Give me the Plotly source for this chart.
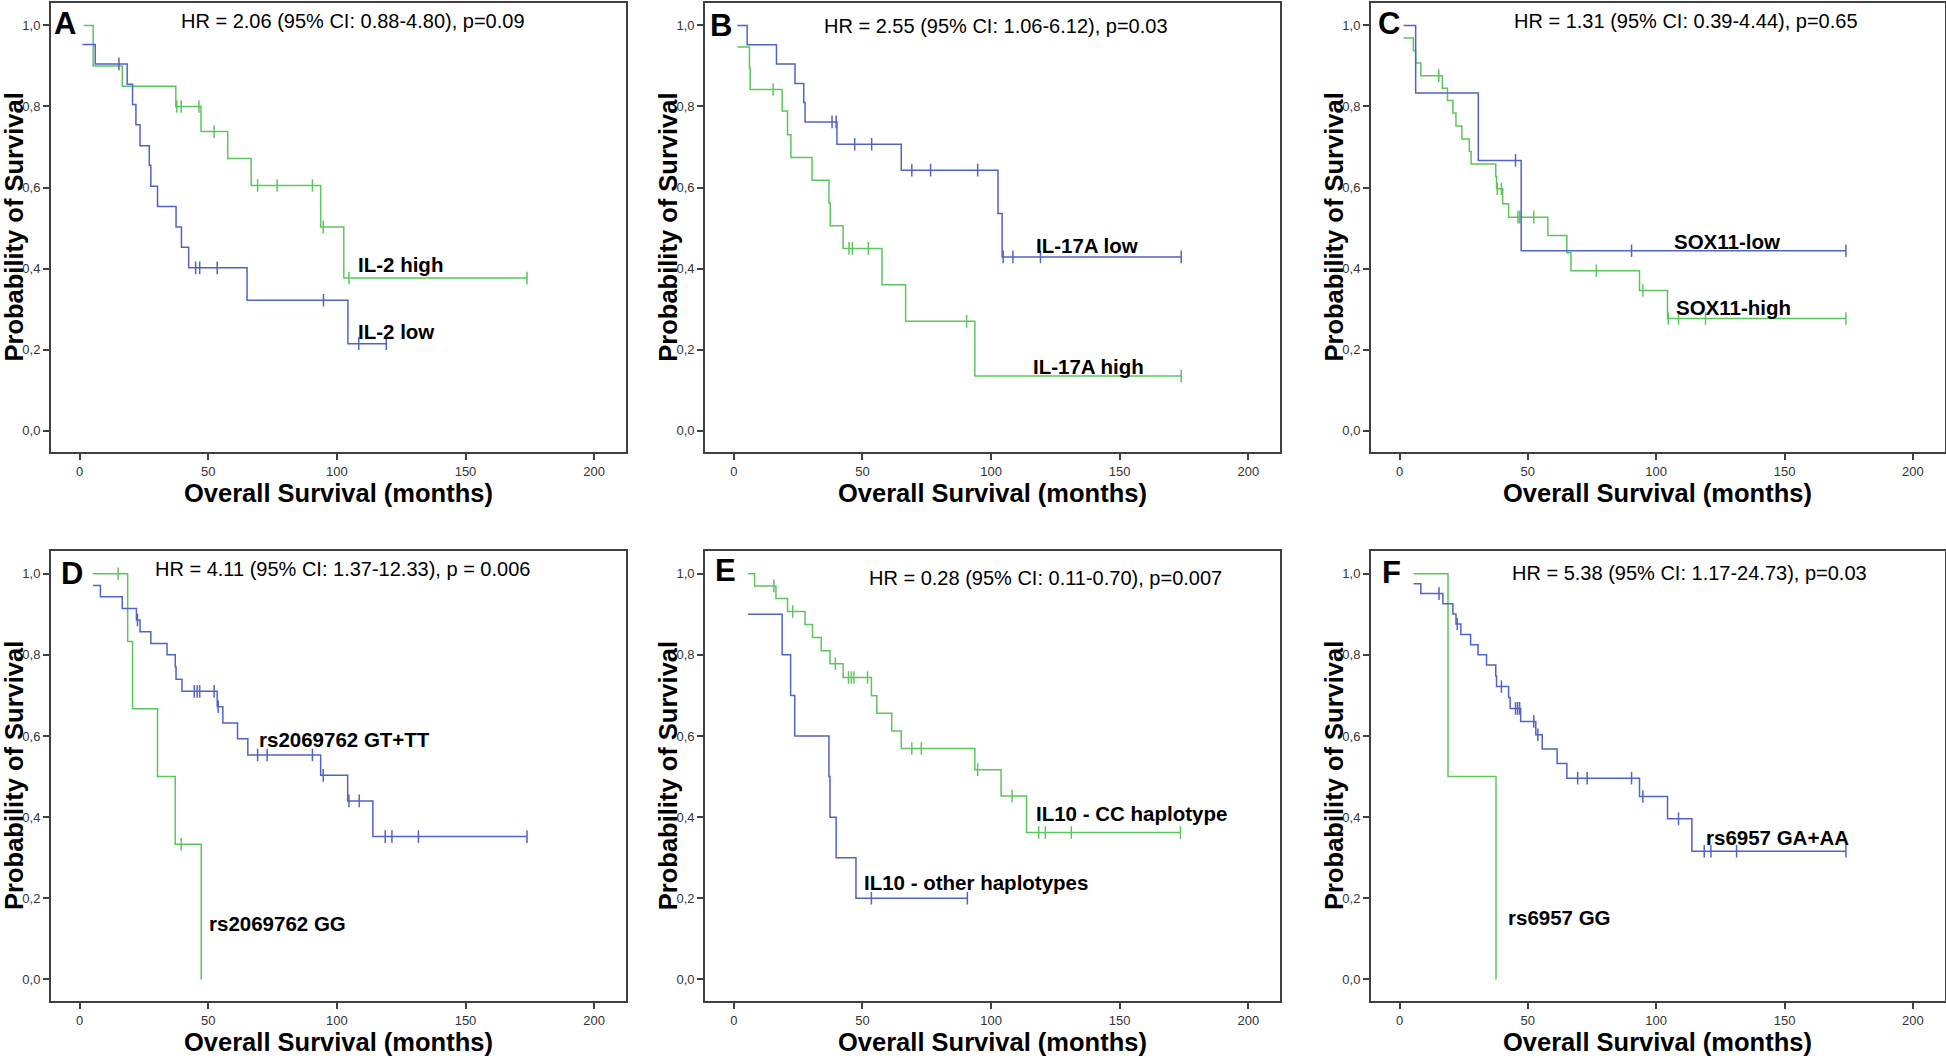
import plotly.graph_objects as go

# ---------------- data ----------------
panel_letters = ["A", "B", "C", "D", "E", "F"]
hr_texts = [
    "HR = 2.06 (95% CI: 0.88-4.80), p=0.09",
    "HR = 2.55 (95% CI: 1.06-6.12), p=0.03",
    "HR = 1.31 (95% CI: 0.39-4.44), p=0.65",
    "HR = 4.11 (95% CI: 1.37-12.33), p = 0.006",
    "HR = 0.28 (95% CI: 0.11-0.70), p=0.007",
    "HR = 5.38 (95% CI: 1.17-24.73), p=0.03",
]
x_ticks = [0, 50, 100, 150, 200]
y_ticks = [0.0, 0.2, 0.4, 0.6, 0.8, 1.0]
y_tick_labels = ["0,0", "0,2", "0,4", "0,6", "0,8", "1,0"]

# Panel A
a_high_start = [1.6, 1.0]
a_high_times = [5.3, 16.6, 37.4, 47.2, 57.6, 66.7, 93.7, 102.7]
a_high_surv = [0.90, 0.85, 0.80, 0.738, 0.672, 0.605, 0.503, 0.377]
a_high_cens = [37.8, 39.5, 46.4, 52.3, 69.2, 76.8, 90.5, 94.7, 104.7, 173.9]
a_low_start = [1.1, 0.953]
a_low_times = [6.1, 18.5, 20.6, 21.9, 23.5, 27.1, 27.7, 30.3, 37.5, 39.6, 42.4, 65.1, 104.3]
a_low_surv = [0.905, 0.855, 0.805, 0.755, 0.703, 0.655, 0.603, 0.553, 0.503, 0.453, 0.402, 0.322, 0.215]
a_low_cens = [15.3, 45.1, 46.7, 53.5, 94.8, 108.5, 119.2]

# Panel B
b_low_start = [1.4, 1.0]
b_low_times = [5.2, 16.6, 23.8, 27.2, 27.7, 40.1, 65.1, 102.7, 104.3]
b_low_surv = [0.952, 0.905, 0.857, 0.81, 0.762, 0.707, 0.643, 0.536, 0.429]
b_low_cens = [38.2, 39.8, 47.0, 53.6, 69.2, 76.5, 94.8, 104.7, 108.5, 119.2, 173.9]
b_high_start = [1.4, 0.947]
b_high_times = [6.1, 6.4, 18.8, 20.9, 22.2, 30.4, 37.0, 37.5, 42.5, 57.6, 66.8, 93.7]
b_high_surv = [0.895, 0.842, 0.789, 0.73, 0.674, 0.618, 0.562, 0.506, 0.45, 0.36, 0.27, 0.135]
b_high_cens = [15.3, 44.8, 46.1, 52.3, 90.5, 173.9]

# Panel C
c_low_start = [1.6, 1.0]
c_low_times = [6.3, 30.7, 47.4]
c_low_surv = [0.833, 0.667, 0.444]
c_low_cens = [45.2, 90.4, 173.9]
c_high_start = [1.6, 0.969]
c_high_times = [5.4, 6.3, 8.3, 16.7, 18.7, 20.8, 22.0, 24.3, 27.2, 27.9, 37.5, 37.8,
                40.2, 42.5, 57.8, 65.2, 66.8, 93.5, 104.4]
c_high_surv = [0.938, 0.907, 0.876, 0.845, 0.815, 0.784, 0.752, 0.72, 0.689, 0.658, 0.627, 0.597,
               0.56, 0.527, 0.482, 0.439, 0.395, 0.346, 0.277]
c_high_cens = [15.3, 38.1, 39.7, 46.1, 46.8, 52.3, 76.7, 94.8, 104.7, 108.7, 119.2, 173.9]

# Panel D
d_gg_start = [5.2, 1.0]
d_gg_times = [18.7, 20.6, 30.3, 37.2, 47.3]
d_gg_surv = [0.833, 0.667, 0.5, 0.333, 0.0]
d_gg_cens = [15.0, 39.5]
d_gt_start = [5.2, 0.971]
d_gt_times = [8.1, 16.6, 22.1, 23.5, 27.7, 34.0, 37.2, 37.5, 39.8, 53.5, 55.7, 61.4, 65.4,
              93.7, 104.2, 114.0]
d_gt_surv = [0.943, 0.914, 0.886, 0.857, 0.828, 0.8, 0.77, 0.74, 0.71, 0.672, 0.632, 0.593, 0.553,
             0.503, 0.44, 0.352]
d_gt_cens = [22.5, 44.6, 45.7, 46.7, 52.3, 53.9, 69.2, 72.9, 90.5, 94.7, 104.7, 108.7,
             118.8, 121.4, 131.7, 173.9]

# Panel E
e_cc_start = [5.5, 1.0]
e_cc_times = [8.1, 16.4, 20.9, 27.7, 30.6, 34.0, 37.4, 42.5, 53.5, 55.6, 61.4, 65.1, 93.7, 103.9, 113.8]
e_cc_surv = [0.97, 0.939, 0.907, 0.875, 0.843, 0.81, 0.778, 0.744, 0.699, 0.656, 0.612, 0.569,
             0.517, 0.452, 0.362]
e_cc_cens = [15.6, 22.9, 39.5, 44.6, 45.7, 46.7, 52.0, 69.2, 72.9, 94.8, 108.2, 118.5, 121.1, 131.2, 173.6]
e_oth_start = [5.5, 0.9]
e_oth_times = [18.8, 22.1, 23.7, 37.0, 37.4, 39.8, 47.5]
e_oth_surv = [0.8, 0.7, 0.6, 0.5, 0.4, 0.3, 0.2]
e_oth_cens = [53.5, 90.8]

# Panel F
f_gg_start = [5.5, 1.0]
f_gg_times = [18.9, 37.6]
f_gg_surv = [0.5, 0.0]
f_gg_cens = []
f_ga_start = [5.5, 0.975]
f_ga_times = [8.3, 16.9, 20.8, 22.0, 23.9, 27.7, 30.6, 33.9, 37.5, 37.8, 42.5, 43.1, 47.2,
              53.1, 55.6, 61.4, 65.2, 93.5, 104.4, 113.9]
f_ga_surv = [0.951, 0.926, 0.901, 0.876, 0.85, 0.825, 0.8, 0.775, 0.748, 0.722, 0.695, 0.668, 0.636,
             0.603, 0.568, 0.532, 0.496, 0.451, 0.396, 0.316]
f_ga_cens = [15.4, 22.5, 39.7, 45.2, 46.0, 46.8, 52.3, 53.9, 69.4, 73.1, 90.4, 94.8,
             108.7, 118.7, 121.3, 131.3, 173.9]

# curve labels: text, x (months), y (survival) for left edge / vertical middle
labels = [
    [("IL-2 high", 107.6, 0.409), ("IL-2 low", 107.6, 0.244)],
    [("IL-17A low", 116.6, 0.456), ("IL-17A high", 115.5, 0.159)],
    [("SOX11-low", 106.1, 0.468), ("SOX11-high", 106.9, 0.305)],
    [("rs2069762 GT+TT", 68.9, 0.591), ("rs2069762 GG", 49.6, 0.137)],
    [("IL10 - CC haplotype", 116.6, 0.409), ("IL10 - other haplotypes", 49.9, 0.238)],
    [("rs6957 GA+AA", 118.7, 0.351), ("rs6957 GG", 41.3, 0.153)],
]
hr_pos = [(106.3, 1.011), (101.8, 0.998), (111.7, 1.012), (102.1, 1.012), (121.3, 0.989), (112.8, 1.002)]
letter_pos = [(-5.6, 1.004), (-4.8, 1.0), (-3.9, 1.004), (-3.0, 1.0), (-3.2, 1.007), (-3.3, 1.002)]

GREEN = "#5cc65c"
BLUE = "#5163c4"

panels = [
    [(a_high_start, a_high_times, a_high_surv, a_high_cens, GREEN),
     (a_low_start, a_low_times, a_low_surv, a_low_cens, BLUE)],
    [(b_high_start, b_high_times, b_high_surv, b_high_cens, GREEN),
     (b_low_start, b_low_times, b_low_surv, b_low_cens, BLUE)],
    [(c_high_start, c_high_times, c_high_surv, c_high_cens, GREEN),
     (c_low_start, c_low_times, c_low_surv, c_low_cens, BLUE)],
    [(d_gg_start, d_gg_times, d_gg_surv, d_gg_cens, GREEN),
     (d_gt_start, d_gt_times, d_gt_surv, d_gt_cens, BLUE)],
    [(e_cc_start, e_cc_times, e_cc_surv, e_cc_cens, GREEN),
     (e_oth_start, e_oth_times, e_oth_surv, e_oth_cens, BLUE)],
    [(f_gg_start, f_gg_times, f_gg_surv, f_gg_cens, GREEN),
     (f_ga_start, f_ga_times, f_ga_surv, f_ga_cens, BLUE)],
]

# ---------------- layout geometry ----------------
W, H = 1946, 1058
x_domains = [(51.0, 625.8), (705.2, 1280.0), (1371.0, 1944.5)]
y_domains = [(2.7, 452.3), (551.0, 1000.9)]  # pixels from top
X_RANGE = [-11.1, 212.3]
Y_RANGE = [-0.053, 1.056]
AXIS_COLOR = "#404040"
FONT = "Liberation Sans, Arial, sans-serif"

fig = go.Figure()
layout = dict(
    width=W, height=H, margin=dict(l=0, r=0, t=0, b=0),
    paper_bgcolor="white", plot_bgcolor="white", showlegend=False,
    font=dict(family=FONT, color="black"),
)
annotations = []


def surv_at(t, start, times, surv):
    s = start[1]
    for ti, si in zip(times, surv):
        if ti <= t:
            s = si
    return s


for p in range(6):
    row, col = divmod(p, 3)
    idx = "" if p == 0 else str(p + 1)
    xa, ya = "x" + idx, "y" + idx
    xd = x_domains[col]
    yd = y_domains[row]
    layout["xaxis" + idx] = dict(
        domain=[xd[0] / W, xd[1] / W], range=X_RANGE, anchor=ya,
        tickvals=x_ticks, ticks="outside", ticklen=6, tickwidth=1.5, tickcolor=AXIS_COLOR,
        showline=True, mirror=True, linecolor=AXIS_COLOR, linewidth=2,
        showgrid=False, zeroline=False, tickfont=dict(size=13, color="#333333"),
    )
    layout["yaxis" + idx] = dict(
        domain=[1 - yd[1] / H, 1 - yd[0] / H], range=Y_RANGE, anchor=xa,
        tickvals=y_ticks, ticktext=y_tick_labels, ticks="outside", ticklen=6, tickwidth=1.5,
        tickcolor=AXIS_COLOR, showline=True, mirror=True, linecolor=AXIS_COLOR, linewidth=2,
        showgrid=False, zeroline=False, tickfont=dict(size=13, color="#333333"),
    )
    for start, times, surv, cens, color in panels[p]:
        xs = [start[0]] + list(times)
        ys = [start[1]] + list(surv)
        end = max([xs[-1]] + list(cens))
        xs.append(end)
        ys.append(ys[-1])
        fig.add_trace(go.Scatter(x=xs, y=ys, mode="lines", line=dict(color=color, width=1.5, shape="hv"),
                                 xaxis=xa, yaxis=ya, hoverinfo="skip"))
        if cens:
            fig.add_trace(go.Scatter(
                x=cens, y=[surv_at(c, start, times, surv) for c in cens], mode="markers",
                marker=dict(symbol="line-ns", size=9, line=dict(color=color, width=1.5)),
                xaxis=xa, yaxis=ya, hoverinfo="skip"))
    # texts
    annotations.append(dict(text="<b>" + panel_letters[p] + "</b>", x=letter_pos[p][0], y=letter_pos[p][1],
                            xref=xa, yref=ya, showarrow=False, xanchor="center", yanchor="middle",
                            font=dict(size=31, family=FONT, color="black")))
    annotations.append(dict(text=hr_texts[p], x=hr_pos[p][0], y=hr_pos[p][1], xref=xa, yref=ya,
                            showarrow=False, xanchor="center", yanchor="middle",
                            font=dict(size=20, family=FONT, color="black")))
    for txt, lx, ly in labels[p]:
        annotations.append(dict(text="<b>" + txt + "</b>", x=lx, y=ly, xref=xa, yref=ya,
                                showarrow=False, xanchor="left", yanchor="middle",
                                font=dict(size=20.5, family=FONT, color="black")))
    annotations.append(dict(text="<b>Overall Survival (months)</b>", x=0.5, y=0, xref=xa + " domain",
                            yref=ya + " domain", showarrow=False, xanchor="center", yanchor="middle",
                            yshift=-41, font=dict(size=25.5, family=FONT, color="black")))
    annotations.append(dict(text="<b>Probability of Survival</b>", x=0, y=0.5, xref=xa + " domain",
                            yref=ya + " domain", showarrow=False, xanchor="center", yanchor="middle",
                            xshift=-37.0, textangle=-90, font=dict(size=25.5, family=FONT, color="black")))

layout["annotations"] = annotations
fig.update_layout(**layout)
fig.write_html("out.html", config={"displayModeBar": False},
               post_script="document.body.style.margin='0';document.body.style.overflow='hidden';")
